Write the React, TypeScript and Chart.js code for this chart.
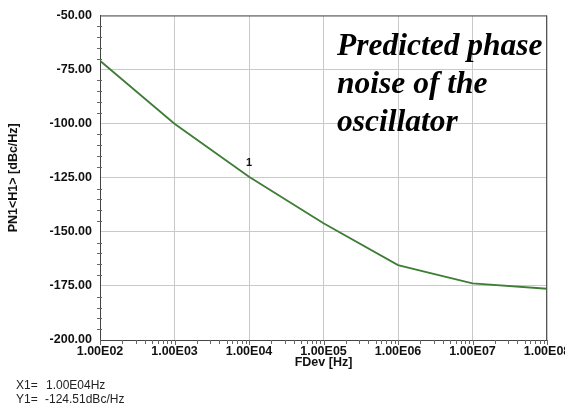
import React, { useEffect, useRef } from "react";
import { Chart, registerables } from "chart.js";

Chart.register(...registerables);

const freqHz = [1e2, 1e3, 1e4, 1e5, 1e6, 3e6, 1e7, 1e8];
const phaseNoise = [-70.9, -100.0, -124.5, -146.0, -165.4, -169.4, -173.8, -176.3];
const xTickValues = [1e2, 1e3, 1e4, 1e5, 1e6, 1e7, 1e8];
const yTickValues = [-50, -75, -100, -125, -150, -175, -200];
const yAxisTitle = "PN1<H1> [dBc/Hz]";
const xAxisTitle = "FDev [Hz]";
const markerLabel = "1";
const markerFreq = 1e4;
const markerValue = -124.51;
const noteLines = ["Predicted phase", "noise of the", "oscillator"];
const readoutX = ["X1=", "1.00E04Hz"];
const readoutY = ["Y1=", "-124.51dBc/Hz"];

const fmtExp = (v: number) => {
  const e = Math.round(Math.log10(v));
  return "1.00E" + String(e).padStart(2, "0");
};

const overlay = {
  id: "overlay",
  afterDraw(chart: any) {
    const { ctx, chartArea: a, scales } = chart;
    const xs = scales.x;
    const ys = scales.y;
    ctx.save();
    // top & right borders
    ctx.strokeStyle = "#555";
    ctx.lineWidth = 1;
    ctx.beginPath();
    ctx.moveTo(a.left, a.top + 0.5);
    ctx.lineTo(a.right, a.top + 0.5);
    ctx.moveTo(a.right - 0.5, a.top);
    ctx.lineTo(a.right - 0.5, a.bottom);
    ctx.stroke();
    // y minor ticks every 5
    ctx.strokeStyle = "#666";
    ctx.beginPath();
    for (let v = -195; v < -50; v += 5) {
      if (v % 25 === 0) continue;
      const py = Math.round(ys.getPixelForValue(v)) + 0.5;
      ctx.moveTo(a.left - 3, py);
      ctx.lineTo(a.left + 2, py);
    }
    // x minor ticks
    for (let d = 2; d < 8; d++) {
      for (let k = 2; k <= 9; k++) {
        const px = Math.round(xs.getPixelForValue(k * Math.pow(10, d))) + 0.5;
        ctx.moveTo(px, a.bottom);
        ctx.lineTo(px, a.bottom + 4);
      }
    }
    for (const v of xTickValues) {
      const px = Math.round(xs.getPixelForValue(v)) + 0.5;
      ctx.moveTo(px, a.bottom);
      ctx.lineTo(px, a.bottom + 5);
    }
    ctx.stroke();

    ctx.fillStyle = "#111";
    // y axis title
    ctx.save();
    ctx.translate(14, (a.top + a.bottom) / 2);
    ctx.rotate(-Math.PI / 2);
    ctx.font = "bold 12.5px 'Liberation Sans', Arial, sans-serif";
    ctx.textAlign = "center";
    ctx.textBaseline = "middle";
    ctx.fillText(yAxisTitle, 0, 0);
    ctx.restore();
    // x axis title
    ctx.font = "bold 12.5px 'Liberation Sans', Arial, sans-serif";
    ctx.textAlign = "center";
    ctx.textBaseline = "middle";
    ctx.fillText(xAxisTitle, (a.left + a.right) / 2, 363);
    // marker label
    ctx.font = "bold 11px 'Liberation Sans', Arial, sans-serif";
    ctx.fillText(markerLabel, xs.getPixelForValue(markerFreq), ys.getPixelForValue(markerValue) - 14);
    // note
    ctx.font = "italic bold 31.5px 'Liberation Serif', 'Times New Roman', serif";
    ctx.textAlign = "left";
    ctx.textBaseline = "alphabetic";
    ctx.fillStyle = "#000";
    noteLines.forEach((t, i) => ctx.fillText(t, 337, 55 + i * 38));
    // readouts
    ctx.font = "12px 'Liberation Sans', Arial, sans-serif";
    ctx.textBaseline = "middle";
    ctx.fillStyle = "#222";
    ctx.fillText(readoutX[0], 16, 386);
    ctx.fillText(readoutX[1], 46, 386);
    ctx.fillText(readoutY[0], 16, 400);
    ctx.fillText(readoutY[1], 45, 400);
    ctx.restore();
  },
};

export default function App() {
  const ref = useRef<HTMLCanvasElement>(null);
  useEffect(() => {
    if (!ref.current) return;
    const chart = new Chart(ref.current, {
      type: "line",
      data: {
        datasets: [
          {
            data: freqHz.map((f, i) => ({ x: f, y: phaseNoise[i] })),
            borderColor: "#3f7d36",
            borderWidth: 1.8,
            pointRadius: 0,
            tension: 0,
            fill: false,
          },
        ],
      },
      options: {
        animation: false,
        responsive: false,
        layout: { padding: { left: 0, top: 13, right: 53, bottom: 0 } },
        plugins: { legend: { display: false }, tooltip: { enabled: false } },
        scales: {
          x: {
            type: "logarithmic",
            min: 1e2,
            max: 1e8,
            afterBuildTicks: (s: any) => {
              s.ticks = xTickValues.map((v) => ({ value: v }));
            },
            afterFit: (s: any) => {
              s.height = 69;
            },
            grid: { color: "#c9c9c9", drawTicks: false },
            border: { display: true, color: "#444", width: 1 },
            ticks: {
              autoSkip: false,
              maxRotation: 0,
              padding: 4,
              color: "#111",
              font: { family: "'Liberation Sans', Arial, sans-serif", size: 12.5, weight: "bold" },
              callback: (v: any) => fmtExp(Number(v)),
            },
          },
          y: {
            type: "linear",
            min: -200,
            max: -50,
            afterBuildTicks: (s: any) => {
              s.ticks = yTickValues.map((v) => ({ value: v }));
            },
            afterFit: (s: any) => {
              s.width = 100;
            },
            grid: { color: "#c9c9c9", drawTicks: false },
            border: { display: true, color: "#444", width: 1 },
            ticks: {
              padding: 8,
              color: "#111",
              font: { family: "'Liberation Sans', Arial, sans-serif", size: 12.5, weight: "bold" },
              callback: (v: any) => Number(v).toFixed(2),
            },
          },
        },
      },
      plugins: [overlay],
    } as any);
    return () => chart.destroy();
  }, []);
  return (
    <div
      style={{
        position: "absolute",
        left: 0,
        top: 0,
        width: 565,
        height: 409,
        overflow: "hidden",
        background: "#fff",
      }}
    >
      <canvas ref={ref} width={600} height={409} style={{ display: "block" }} />
    </div>
  );
}
